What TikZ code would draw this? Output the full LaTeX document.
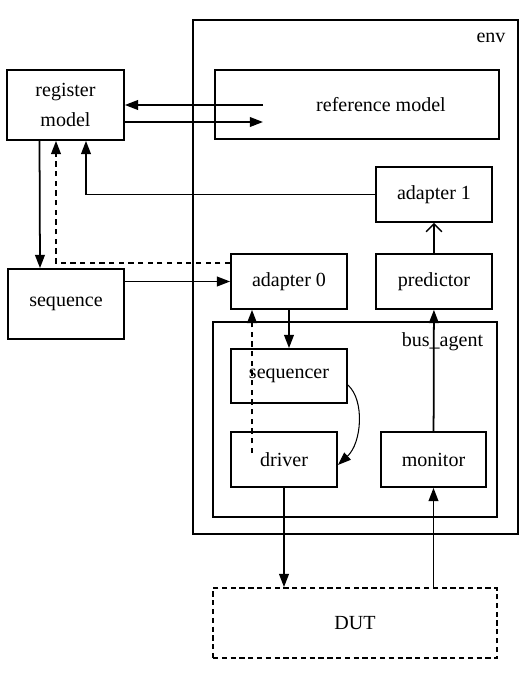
\documentclass[tikz,border=0pt]{standalone}
\usepackage{fontspec}
\setmainfont{Liberation Serif}
\usetikzlibrary{arrows.meta,positioning,calc}

\begin{document}
\begin{tikzpicture}[
  x=0.02cm, y=-0.02cm,
  font=\fontsize{11.4}{17}\selectfont,
  line width=1pt,
  box/.style={draw, minimum width=2.32cm, minimum height=1.1cm, align=center},
  frame/.style={draw, minimum width=5.68cm},
  >={Triangle[length=7.5pt, width=5.5pt]},
  open/.style={-{Straight Barb[length=4.5pt, width=9pt]}, line width=0.8pt}
]
  \useasboundingbox (0,0) rectangle (529,676);

  % Frames
  \node[draw, minimum width=6.5cm, minimum height=10.28cm] (env) at (355.5,277) {};
  \node (envlabel) at (491,37.5) {env};
  \node[frame, minimum height=3.9cm] (busagent) at (355,419.5) {};
  \node (buslabel) at (442.5,342) {bus\_agent};

  % Nodes
  \node[box, minimum width=2.34cm, minimum height=1.4cm] (regmodel) at (65.5,105) {register\\model};
  \node[box, minimum height=1.4cm] (sequence) at (66,304) {sequence};
  \node[frame, minimum height=1.38cm] (refmodel) at (357,104.5) {};
  \node (reftext) at (381,105) {reference model};
  \node[box] (adapter1) at (434,194.5) {adapter 1};
  \node[box] (adapter0) at (289,281.5) {adapter 0};
  \node[box] (predictor) at (434,281.5) {predictor};
  \node[box, minimum height=1.08cm] (sequencer) at (289,376) {sequencer};
  \node[box, minimum width=2.12cm] (driver) at (284,459.5) {driver};
  \node[box, minimum width=2.1cm] (monitor) at (433.5,459.5) {monitor};
  \node[frame, dashed, dash pattern=on 3pt off 2pt, minimum height=1.4cm] (dut) at (355,623) {DUT};

  \coordinate (refin) at (263,105);
  \coordinate (refout) at (263,122);
  \coordinate (drvtap) at (252,453);

  % Flows
  \draw[->] (refin) -- (regmodel.east |- refin);
  \draw[->] (regmodel.east |- refout) -- (refout);
  \draw[->] (adapter1.west) -| ([xshift=0.41cm]regmodel.south);
  \draw[->] ([xshift=-0.52cm]regmodel.south) -- ([xshift=-0.52cm]sequence.north);
  \draw[->, dashed, dash pattern=on 3pt off 2.5pt] ([yshift=0.37cm]adapter0.west) -| ([xshift=-0.19cm]regmodel.south);
  \draw[->] (sequence.east |- adapter0.west) -- (adapter0.west);
  \draw[open] (predictor) -- (adapter1);
  \draw[->] (adapter0) -- (sequencer);
  \draw[->, dashed, dash pattern=on 3pt off 2.5pt] (drvtap) -- (drvtap |- adapter0.south);
  \draw[->, line width=0.6pt] ([yshift=-0.18cm]sequencer.east) .. controls +(17,15) and +(24,-22) .. ([yshift=-0.11cm]driver.east);
  \draw[->] (monitor) -- (predictor);
  \draw[->] (driver.south) -- (driver.south |- dut.north);
  \draw[->] (monitor.south |- dut.north) -- (monitor.south);
\end{tikzpicture}
\end{document}
